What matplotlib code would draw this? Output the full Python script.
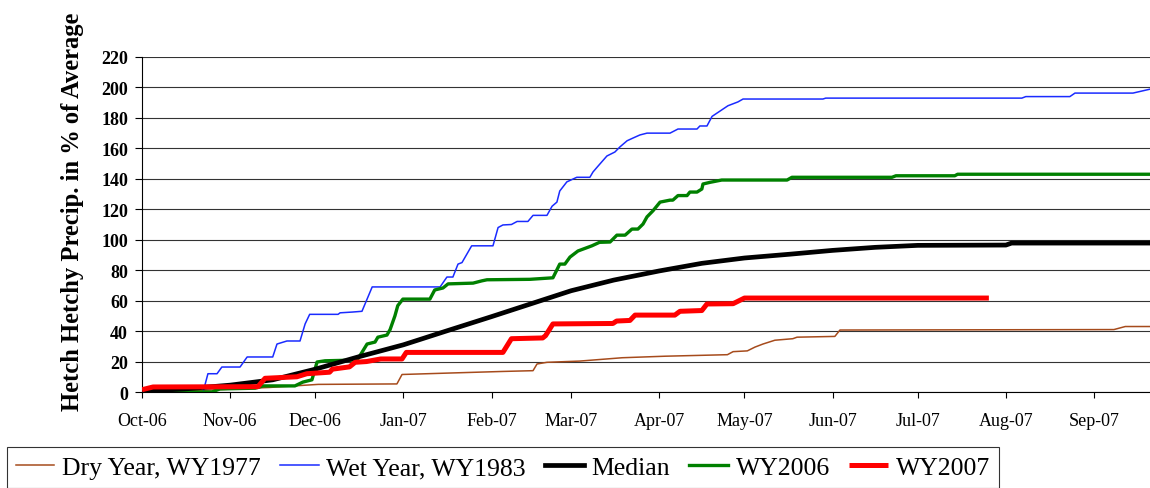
import pandas as pd
import matplotlib
matplotlib.use("Agg")
import matplotlib.pyplot as plt
import matplotlib.dates as mdates

# cumulative precip, % of average
# x values are days since 1 Oct 2006 (water year start)
start = pd.Timestamp("2006-10-01")

dry_days = [0, 20, 45, 62, 89.7, 91.5, 109, 127, 137.6, 139, 142.5, 154, 169, 184, 206, 208, 213,
            215.7, 218.5, 222.7, 229, 230.5, 243.8, 245.6, 342, 346, 355]
dry_vals = [0, 1, 3, 5, 5.3, 11.5, 12.5, 13.5, 14, 18.4, 19.5, 20.3, 22.5, 23.5, 24.5, 26.5, 27,
            29.5, 31.5, 34, 35, 36, 36.5, 40.7, 41, 43, 43]

wet_days = [0, 21.5, 23.2, 26.4, 28.1, 34.5, 37, 46, 47.5, 51, 55.6, 57.4, 59, 69, 69.7, 74, 77.4, 81,
            104.9, 107.3, 109.4, 111.2, 112.6, 116, 123.5, 125.3, 127, 130, 132, 135.8, 137.6, 142.5,
            144.3, 146, 147, 149.5, 153, 157.6, 158.7, 160.5, 163.6, 166.4, 168.2, 170.7, 172.8, 175.2,
            177.7, 185.8, 188.6, 195.3, 196.3, 198.8, 200.6, 203.4, 206.2, 209.7, 211.5, 239.6, 240.6,
            309.6, 311, 326.5, 328.3, 348.7, 355]
wet_vals = [0, 0, 12, 12, 16.4, 16.4, 23, 23, 31.5, 33.5, 33.5, 44.7, 51, 51, 52, 52.5, 53, 69,
            69, 75.5, 75.5, 84, 85, 96, 96, 108, 109.7, 110, 112, 112, 116, 116,
            122, 124.7, 132, 138, 141, 141, 144.5, 148.4, 155, 157.6, 161, 165, 166.8, 168.8,
            170, 170, 172.7, 172.7, 174.7, 174.7, 181, 184.5, 188, 190.5, 192.4, 192.4, 193,
            193, 194, 194, 196.3, 196.3, 199]

median_days = [0, 15, 31, 46, 61, 76, 92, 107, 123, 137, 151, 166, 182, 197, 212, 228, 243, 258,
               273, 304, 306, 355]
median_vals = [0.5, 2, 4.5, 8, 15, 23, 31, 40, 49.5, 58, 66.5, 73.5, 79.5, 84.5, 88, 90.5, 93, 95,
               96.3, 96.5, 97.8, 97.8]

wy2006_days = [0, 24.6, 27.4, 39.8, 42.6, 53.8, 56.6, 59.8, 61.6, 64.4, 75.7, 77.4, 79.2, 82, 83, 86.2,
               87.3, 89, 90, 91.8, 101.3, 103, 105.9, 107.7, 116.5, 119.6, 121.4, 136.5, 144.6, 147,
               148.8, 150.6, 153.4, 158.3, 161, 164.7, 167.1, 170, 172.4, 174.5, 176.3, 177.7, 179.8,
               182.3, 185.8, 186.8, 188.6, 191.8, 192.8, 195.3, 197, 197.4, 199.9, 204, 227, 228.7,
               263.9, 265.3, 286, 287, 355]
wy2006_vals = [0, 0, 2, 2.5, 4, 4, 6.5, 8, 19.7, 20.5, 21, 26, 31.5, 32.8, 36, 37.4,
               41, 50, 56.7, 61, 61, 67, 68.3, 71, 71.5, 73, 73.7, 74, 75, 84,
               84, 88.6, 92.6, 96, 98.3, 98.5, 103, 103, 107, 107, 110.3, 115, 119,
               124.7, 126, 126, 129, 129, 131.3, 131.3, 133.3, 136.6, 137.7, 139.2, 139.2, 141,
               141, 142, 142, 143, 143]

wy2007_days = [0, 3.9, 40.8, 43.3, 54.5, 58, 66, 67, 73, 75, 79, 84, 91.5, 93, 127, 130, 141, 142,
               144.6, 165.7, 167, 171.7, 173.5, 187.5, 189.3, 197, 198.8, 208, 212, 298]
wy2007_vals = [1.5, 3.3, 3.5, 9, 10, 12, 13, 15, 16.5, 19.5, 20, 21.7, 21.7, 26, 26, 35, 35.5, 37,
               44.7, 45, 46.6, 47, 50.5, 50.5, 53, 53.5, 57.8, 58, 61.7, 61.7]

yticks = list(range(0, 221, 20))


def to_dates(days):
    return [start + pd.Timedelta(days=d) for d in days]


plt.rcParams['font.family'] = ['Liberation Serif', 'DejaVu Serif']

fig = plt.figure(figsize=(11.5, 4.89), dpi=100)
ax = fig.add_axes([142 / 1150, 1 - 393 / 489, 1008 / 1150, 335 / 489])

ax.plot(to_dates(dry_days), dry_vals, color='#A64B1C', lw=1.1, label='Dry Year, WY1977', zorder=3)
ax.plot(to_dates(wet_days), wet_vals, color='#1A2BFF', lw=1.1, label='Wet Year, WY1983', zorder=3)
ax.plot(to_dates(median_days), median_vals, color='black', lw=3.4, label='Median', zorder=4)
ax.plot(to_dates(wy2006_days), wy2006_vals, color='#008000', lw=2.4, label='WY2006', zorder=3)
ax.plot(to_dates(wy2007_days), wy2007_vals, color='#FF0000', lw=3.6, label='WY2007',
        solid_capstyle='butt', zorder=5)

ax.set_ylim(0, 220)
ax.set_xlim(start, start + pd.Timedelta(days=354.7))
ax.set_yticks(yticks)
ax.set_yticklabels([str(v) for v in yticks], fontsize=13, fontweight='bold')
ax.yaxis.grid(True, color='#333333', lw=0.8)
ax.set_axisbelow(True)

ax.xaxis.set_major_locator(mdates.MonthLocator())
ax.xaxis.set_major_formatter(mdates.DateFormatter('%b-%y'))
for lab in ax.get_xticklabels():
    lab.set_fontsize(13)

ax.tick_params(axis='y', direction='out', length=5, width=0.8, pad=5)
ax.tick_params(axis='x', direction='out', length=4.5, width=0.8, pad=10)

for s in ['top', 'right']:
    ax.spines[s].set_visible(False)
ax.spines['left'].set_linewidth(0.8)
ax.spines['bottom'].set_linewidth(0.8)

ax.set_ylabel('Hetch Hetchy Precip. in % of Average', fontsize=17.7, fontweight='bold')
ax.yaxis.set_label_coords(-0.058, 0.54)

leg = fig.legend(loc='upper left', bbox_to_anchor=(0.006, 1 - 448 / 489), ncol=5, fontsize=18.5,
                 frameon=True, fancybox=False, edgecolor='black', handlelength=1.5,
                 handletextpad=0.3, columnspacing=0.75, borderpad=0.35, borderaxespad=0)
leg.get_frame().set_linewidth(0.8)

fig.savefig('out.png', dpi=100)
